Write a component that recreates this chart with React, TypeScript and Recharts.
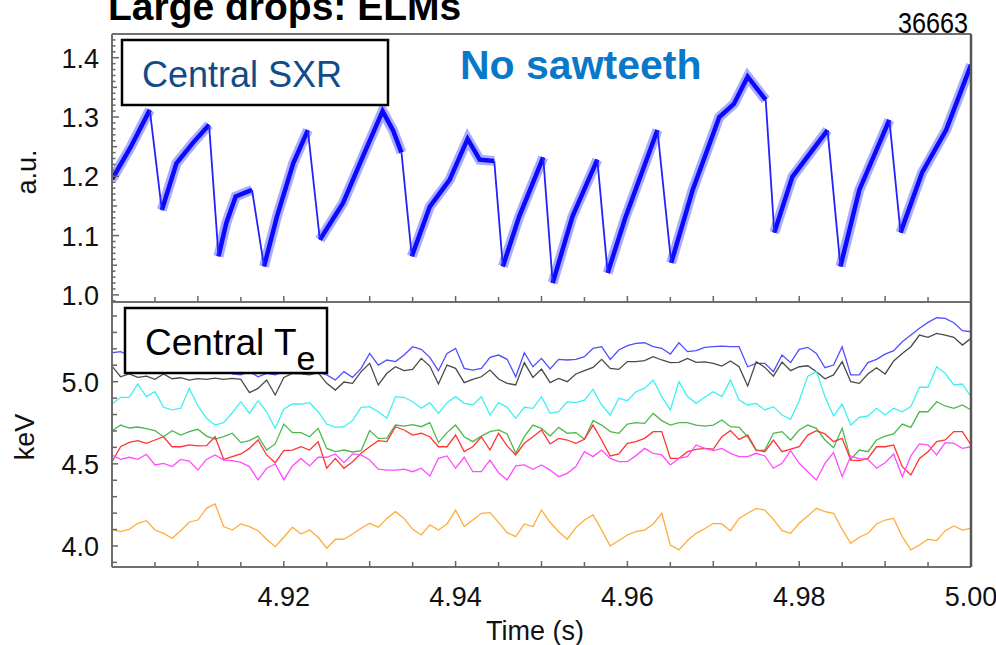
import React from "react";
import { LineChart, Line, XAxis, YAxis } from "recharts";

const FONT = '"Liberation Sans", Arial, Helvetica, sans-serif';
const AXIS = "#707070";

// ---- top panel: central SXR (ELM crashes) ----
const SXR_TIME = [
  4.9, 4.9022, 4.9044, 4.9058, 4.9075, 4.9094, 4.9113, 4.9124, 4.9133, 4.9144,
  4.9163, 4.9177, 4.9192, 4.9211, 4.9228, 4.9242, 4.9269, 4.9292, 4.9315, 4.9327,
  4.9337, 4.9349, 4.937, 4.9393, 4.9414, 4.9428, 4.9445, 4.9455, 4.9474, 4.9502,
  4.9513, 4.9536, 4.9565, 4.9577, 4.9598, 4.9635, 4.9651, 4.9676, 4.9707, 4.9724,
  4.974, 4.9761, 4.9771, 4.9792, 4.9833, 4.9848, 4.987, 4.9905, 4.9918, 4.9943,
  4.9971, 5.0,
];
const SXR_VALUE = [
  1.195, 1.25, 1.312, 1.143, 1.222, 1.256, 1.287, 1.065, 1.121, 1.166,
  1.177, 1.048, 1.132, 1.222, 1.278, 1.093, 1.155, 1.233, 1.31, 1.278,
  1.24, 1.065, 1.149, 1.194, 1.263, 1.228, 1.226, 1.048, 1.132, 1.232,
  1.02, 1.132, 1.228, 1.037, 1.132, 1.278, 1.054, 1.177, 1.3, 1.322,
  1.368, 1.329, 1.105, 1.199, 1.278, 1.048, 1.177, 1.295, 1.105, 1.206,
  1.278, 1.388,
];
// index of the last point before each crash
const SXR_CRASH_START = [2, 6, 10, 14, 20, 26, 29, 32, 35, 41, 44, 47];
const SXR_TICK_LABELS = [1.0, 1.1, 1.2, 1.3, 1.4];

// ---- bottom panel: central Te channels ----
const TE_TIME = [
  4.9, 4.901, 4.902, 4.903, 4.904, 4.905, 4.906, 4.907, 4.908, 4.909,
  4.91, 4.911, 4.912, 4.913, 4.914, 4.915, 4.916, 4.917, 4.918, 4.919,
  4.92, 4.921, 4.922, 4.923, 4.924, 4.925, 4.926, 4.927, 4.928, 4.929,
  4.93, 4.931, 4.932, 4.933, 4.934, 4.935, 4.936, 4.937, 4.938, 4.939,
  4.94, 4.941, 4.942, 4.943, 4.944, 4.945, 4.946, 4.947, 4.948, 4.949,
  4.95, 4.951, 4.952, 4.953, 4.954, 4.955, 4.956, 4.957, 4.958, 4.959,
  4.96, 4.961, 4.962, 4.963, 4.964, 4.965, 4.966, 4.967, 4.968, 4.969,
  4.97, 4.971, 4.972, 4.973, 4.974, 4.975, 4.976, 4.977, 4.978, 4.979,
  4.98, 4.981, 4.982, 4.983, 4.984, 4.985, 4.986, 4.987, 4.988, 4.989,
  4.99, 4.991, 4.992, 4.993, 4.994, 4.995, 4.996, 4.997, 4.998, 4.999,
  5.0,
];
const TE_BLUE = [
  5.176, 5.183, 5.16, 5.15, 5.17, 5.14, 5.16, 5.13, 5.15, 5.12,
  5.14, 5.11, 5.13, 5.1, 5.047, 5.041, 5.061, 5.03, 5.051, 5.041,
  5.061, 5.08, 5.07, 5.09, 5.06, 5.041, 5.01, 5.061, 5.026, 5.081,
  5.172, 5.101, 5.132, 5.122, 5.162, 5.213, 5.197, 5.148, 5.067, 5.172,
  5.203, 5.081, 5.071, 5.081, 5.148, 5.162, 5.136, 5.03, 5.176, 5.091,
  5.142, 5.077, 5.136, 5.132, 5.136, 5.152, 5.203, 5.213, 5.136, 5.193,
  5.219, 5.233, 5.237, 5.213, 5.203, 5.168, 5.237, 5.183, 5.189, 5.209,
  5.213, 5.217, 5.213, 5.213, 5.091, 5.112, 5.112, 5.061, 5.162, 5.116,
  5.197, 5.209, 5.172, 5.085, 5.101, 5.213, 5.041, 5.041, 5.116, 5.136,
  5.168, 5.189, 5.243, 5.284, 5.325, 5.361, 5.389, 5.385, 5.359, 5.31,
  5.304,
];
const TE_BLACK = [
  5.095, 5.03, 5.047, 5.026, 5.034, 5.014, 5.047, 5.018, 5.024, 5.01,
  5.018, 5.014, 5.022, 5.014, 5.02, 5.014, 4.933, 4.959, 5.01, 4.919,
  5.026, 5.051, 5.047, 5.041, 5.055, 4.99, 4.949, 4.998, 4.99, 5.061,
  5.112, 4.98, 5.051, 5.091, 5.067, 5.075, 5.142, 5.095, 4.986, 5.101,
  5.081, 4.994, 5.014, 5.03, 5.071, 5.016, 4.99, 4.98, 5.116, 5.026,
  5.077, 4.994, 5.02, 5.0, 5.047, 5.067, 5.087, 5.136, 5.081, 5.075,
  5.122, 5.122, 5.128, 5.152, 5.132, 5.116, 5.118, 5.142, 5.118, 5.12,
  5.112, 5.095, 5.126, 5.091, 4.974, 5.122, 5.087, 5.034, 5.12, 5.067,
  5.091, 5.097, 5.061, 5.018, 5.041, 5.122, 5.0, 4.99, 5.047, 5.085,
  5.047, 5.126, 5.172, 5.213, 5.284, 5.27, 5.294, 5.284, 5.27, 5.223,
  5.264,
];
const TE_CYAN = [
  4.864, 4.905, 4.905, 4.986, 4.909, 4.939, 4.844, 4.828, 4.838, 4.959,
  4.852, 4.777, 4.736, 4.751, 4.811, 4.878, 4.807, 4.884, 4.817, 4.716,
  4.832, 4.864, 4.864, 4.872, 4.817, 4.742, 4.722, 4.726, 4.763, 4.844,
  4.848, 4.817, 4.777, 4.909, 4.905, 4.878, 4.838, 4.872, 4.807, 4.872,
  4.909, 4.868, 4.858, 4.909, 4.797, 4.872, 4.844, 4.777, 4.844, 4.838,
  4.909, 4.807, 4.817, 4.878, 4.872, 4.888, 4.953, 4.858, 4.797, 4.899,
  4.884, 4.939, 4.959, 5.01, 4.909, 4.828, 5.0, 4.909, 4.868, 4.905,
  4.939, 4.909, 5.01, 4.888, 4.858, 4.868, 4.828, 4.848, 4.797, 4.771,
  4.884, 5.034, 5.061, 4.909, 4.791, 4.864, 4.736, 4.783, 4.791, 4.838,
  4.797, 4.838, 4.817, 4.848, 4.966, 4.966, 5.091, 5.051, 4.98, 4.986,
  4.909,
];
const TE_GREEN = [
  4.7, 4.736, 4.718, 4.724, 4.714, 4.702, 4.665, 4.702, 4.675, 4.696,
  4.71, 4.669, 4.651, 4.665, 4.686, 4.629, 4.641, 4.669, 4.584, 4.621,
  4.742, 4.69, 4.69, 4.665, 4.716, 4.594, 4.574, 4.584, 4.572, 4.58,
  4.702, 4.655, 4.657, 4.736, 4.73, 4.738, 4.726, 4.751, 4.629, 4.69,
  4.736, 4.665, 4.635, 4.669, 4.696, 4.706, 4.682, 4.564, 4.665, 4.736,
  4.716, 4.669, 4.722, 4.686, 4.69, 4.649, 4.763, 4.736, 4.696, 4.686,
  4.742, 4.751, 4.746, 4.807, 4.763, 4.736, 4.751, 4.751, 4.736, 4.73,
  4.736, 4.767, 4.726, 4.722, 4.665, 4.58, 4.584, 4.686, 4.696, 4.645,
  4.706, 4.736, 4.716, 4.645, 4.598, 4.716, 4.527, 4.584, 4.574, 4.645,
  4.669, 4.682, 4.742, 4.722, 4.817, 4.817, 4.878, 4.852, 4.838, 4.858,
  4.828,
];
const TE_RED = [
  4.513, 4.604, 4.631, 4.641, 4.625, 4.645, 4.665, 4.604, 4.604, 4.615,
  4.609, 4.611, 4.665, 4.527, 4.544, 4.56, 4.594, 4.645, 4.554, 4.507,
  4.58, 4.584, 4.604, 4.584, 4.635, 4.473, 4.533, 4.473, 4.513, 4.564,
  4.604, 4.641, 4.635, 4.726, 4.706, 4.675, 4.686, 4.665, 4.604, 4.604,
  4.675, 4.574, 4.604, 4.665, 4.584, 4.686, 4.609, 4.554, 4.625, 4.665,
  4.706, 4.621, 4.655, 4.645, 4.625, 4.649, 4.736, 4.645, 4.548, 4.56,
  4.625, 4.635, 4.655, 4.696, 4.696, 4.533, 4.533, 4.574, 4.588, 4.594,
  4.59, 4.665, 4.702, 4.649, 4.675, 4.584, 4.574, 4.645, 4.574, 4.59,
  4.604, 4.675, 4.702, 4.682, 4.635, 4.655, 4.523, 4.519, 4.533, 4.604,
  4.604, 4.615, 4.483, 4.432, 4.533, 4.574, 4.635, 4.645, 4.696, 4.696,
  4.615,
];
const TE_MAGENTA = [
  4.554, 4.527, 4.54, 4.527, 4.558, 4.493, 4.503, 4.483, 4.527, 4.517,
  4.462, 4.527, 4.554, 4.523, 4.519, 4.509, 4.483, 4.402, 4.473, 4.499,
  4.402, 4.487, 4.533, 4.487, 4.54, 4.54, 4.56, 4.507, 4.56, 4.554,
  4.523, 4.467, 4.462, 4.462, 4.467, 4.452, 4.473, 4.426, 4.533, 4.548,
  4.473, 4.54, 4.452, 4.452, 4.523, 4.446, 4.402, 4.487, 4.493, 4.467,
  4.493, 4.462, 4.422, 4.442, 4.483, 4.574, 4.544, 4.584, 4.533, 4.513,
  4.513, 4.55, 4.594, 4.564, 4.554, 4.493, 4.533, 4.544, 4.615, 4.594,
  4.58, 4.594, 4.564, 4.544, 4.544, 4.564, 4.548, 4.473, 4.503, 4.58,
  4.503, 4.452, 4.402, 4.503, 4.568, 4.422, 4.548, 4.531, 4.527, 4.473,
  4.507, 4.56, 4.422, 4.548, 4.621, 4.615, 4.554, 4.629, 4.625, 4.594,
  4.604,
];
const TE_ORANGE = [
  4.101, 4.087, 4.101, 4.138, 4.154, 4.097, 4.077, 4.047, 4.093, 4.146,
  4.158, 4.229, 4.256, 4.118, 4.097, 4.134, 4.118, 4.093, 4.041, 3.996,
  4.053, 4.114, 4.073, 4.097, 4.053, 3.986, 4.041, 4.041, 4.073, 4.108,
  4.138, 4.114, 4.168, 4.209, 4.168, 4.101, 4.067, 4.128, 4.097, 4.134,
  4.219, 4.118, 4.158, 4.199, 4.203, 4.144, 4.081, 4.057, 4.134, 4.118,
  4.219, 4.144, 4.087, 4.041, 4.112, 4.158, 4.189, 4.097, 4.0, 4.033,
  4.067, 4.087, 4.097, 4.134, 4.199, 4.006, 3.976, 4.033, 4.077, 4.105,
  4.138, 4.134, 4.093, 4.168, 4.199, 4.229, 4.219, 4.162, 4.093, 4.077,
  4.138, 4.183, 4.229, 4.209, 4.199, 4.101, 4.016, 4.053, 4.077, 4.134,
  4.158, 4.168, 4.057, 3.976, 4.006, 4.041, 4.033, 4.093, 4.122, 4.097,
  4.108,
];
const TE_TICK_LABELS = [4.0, 4.5, 5.0];
const X_TICK_LABELS = [4.92, 4.94, 4.96, 4.98, 5.0];

const TE_SERIES = [
  { key: "blue", values: TE_BLUE, color: "#4f4fff" },
  { key: "black", values: TE_BLACK, color: "#4a4a4a" },
  { key: "cyan", values: TE_CYAN, color: "#3ef0f0" },
  { key: "green", values: TE_GREEN, color: "#4cb84c" },
  { key: "red", values: TE_RED, color: "#ff3434" },
  { key: "magenta", values: TE_MAGENTA, color: "#ff4cff" },
  { key: "orange", values: TE_ORANGE, color: "#ffac3a" },
];

const teRows = TE_TIME.map((t, i) => {
  const row: Record<string, number> = { t };
  TE_SERIES.forEach((s) => (row[s.key] = s.values[i]));
  return row;
});

// ramps are drawn thick (noisy band), crashes thin
const rampRows: { t: number; v: number | null }[] = [];
const crashRows: { t: number; v: number | null }[] = [];
SXR_TIME.forEach((t, i) => {
  rampRows.push({ t, v: SXR_VALUE[i] });
  if (SXR_CRASH_START.includes(i)) {
    rampRows.push({ t, v: null });
    crashRows.push({ t, v: SXR_VALUE[i] });
    crashRows.push({ t: SXR_TIME[i + 1], v: SXR_VALUE[i + 1] });
    crashRows.push({ t: SXR_TIME[i + 1], v: null });
  }
});

function range(from: number, to: number, step: number) {
  const out: number[] = [];
  for (let v = from; v <= to + 1e-9; v += step) out.push(+v.toFixed(4));
  return out;
}
const near = (a: number, b: number) => Math.abs(a - b) < 1e-6;
const isMult = (v: number, m: number) => near(v / m, Math.round(v / m));

const X_TICKS = range(4.9, 5.0, 0.005);
const SXR_TICKS = range(0.99, 1.44, 0.01);
const TE_TICKS = range(3.9, 5.4, 0.1);

function LeftTick(props: any) {
  const { y, payload, labels, kind } = props;
  const x = 112;
  const v = payload.value as number;
  const lab = labels.some((l: number) => near(l, v));
  const len = kind === "sxr" ? (lab ? 7 : isMult(v, 0.05) ? 5 : 3.5) : lab ? 6 : 5;
  return (
    <g>
      <line x1={x} x2={x + len} y1={y} y2={y} stroke="#666" strokeWidth={1.5} />
      {lab && (
        <text x={x - 13} y={y + 10} textAnchor="end" fontSize={27} fontFamily={FONT} fill="#111">
          {v.toFixed(1)}
        </text>
      )}
    </g>
  );
}

function BottomTick(props: any) {
  const { x, y, payload, showLabels } = props;
  const v = payload.value as number;
  const lab = X_TICK_LABELS.some((l) => near(l, v));
  const len = isMult(v, 0.01) ? 6 : 5;
  return (
    <g>
      <line x1={x} x2={x} y1={y} y2={y - len} stroke="#666" strokeWidth={1.5} />
      {showLabels && lab && (
        <text x={x} y={y + 39} textAnchor="middle" fontSize={27} fontFamily={FONT} fill="#111">
          {v.toFixed(2)}
        </text>
      )}
    </g>
  );
}

export default function App() {
  return (
    <div style={{ position: "absolute", left: 0, top: 0, width: 996, height: 645, background: "#fff", overflow: "hidden" }}>
      <div style={{ position: "absolute", left: 0, top: 0 }}>
        <LineChart width={996} height={310} margin={{ top: 34, right: 25, bottom: 7, left: 111 }}>
          <XAxis
            type="number"
            dataKey="t"
            domain={[4.9, 5.0]}
            allowDataOverflow
            ticks={X_TICKS}
            interval={0}
            height={1}
            tickSize={0}
            tickMargin={0}
            tickLine={false}
            axisLine={{ stroke: AXIS, strokeWidth: 2 }}
            tick={(p: any) => <BottomTick {...p} showLabels={false} />}
          />
          <YAxis
            type="number"
            domain={[0.988, 1.44]}
            allowDataOverflow
            ticks={SXR_TICKS}
            interval={0}
            width={1}
            tickSize={0}
            tickMargin={0}
            tickLine={false}
            axisLine={{ stroke: AXIS, strokeWidth: 2 }}
            tick={(p: any) => <LeftTick {...p} labels={SXR_TICK_LABELS} kind="sxr" />}
          />
          <Line data={rampRows} dataKey="v" stroke="#3030ff" strokeOpacity={0.4} strokeWidth={10} dot={false} isAnimationActive={false} />
          <Line data={rampRows} dataKey="v" stroke="#0a0aff" strokeWidth={4.5} dot={false} isAnimationActive={false} />
          <Line data={crashRows} dataKey="v" stroke="#2222ff" strokeWidth={1.8} dot={false} isAnimationActive={false} />
        </LineChart>
      </div>
      <div style={{ position: "absolute", left: 0, top: 0 }}>
        <LineChart width={996} height={645} data={teRows} margin={{ top: 302, right: 25, bottom: 77, left: 111 }}>
          <XAxis
            type="number"
            dataKey="t"
            domain={[4.9, 5.0]}
            allowDataOverflow
            ticks={X_TICKS}
            interval={0}
            height={1}
            tickSize={0}
            tickMargin={0}
            tickLine={false}
            axisLine={{ stroke: AXIS, strokeWidth: 2 }}
            tick={(p: any) => <BottomTick {...p} showLabels />}
          />
          <YAxis
            type="number"
            domain={[3.872, 5.485]}
            allowDataOverflow
            ticks={TE_TICKS}
            interval={0}
            width={1}
            tickSize={0}
            tickMargin={0}
            tickLine={false}
            axisLine={{ stroke: AXIS, strokeWidth: 2 }}
            tick={(p: any) => <LeftTick {...p} labels={TE_TICK_LABELS} kind="te" />}
          />
          {TE_SERIES.map((s) => (
            <Line key={s.key} dataKey={s.key} stroke={s.color} strokeWidth={1.3} dot={false} isAnimationActive={false} />
          ))}
        </LineChart>
      </div>
      <svg width={996} height={645} style={{ position: "absolute", left: 0, top: 0, pointerEvents: "none" }}>
        {/* panel frames */}
        <line x1={112} x2={971} y1={34} y2={34} stroke={AXIS} strokeWidth={2} />
        <line x1={971} x2={971} y1={34} y2={567} stroke="#555" strokeWidth={2.5} />
        <text x={108} y={20} fontSize={39} fontWeight="bold" fontFamily={FONT} fill="#000">
          Large drops: ELMs
        </text>
        <text x={968} y={33} textAnchor="end" fontSize={30} fontFamily={FONT} fill="#000" textLength={70} lengthAdjust="spacingAndGlyphs">
          36663
        </text>
        <rect x={122} y={40} width={266} height={65} fill="#fff" stroke="#000" strokeWidth={2.5} />
        <text x={142} y={87} fontSize={36} fontFamily={FONT} fill="#124c88">
          Central SXR
        </text>
        <text x={460} y={79} fontSize={41} fontWeight="bold" fontFamily={FONT} fill="#0a78c8">
          No sawteeth
        </text>
        <rect x={125} y={308} width={202} height={65} fill="#fff" stroke="#000" strokeWidth={2.5} />
        <text x={145} y={355} fontSize={37} fontFamily={FONT} fill="#000">
          Central T
          <tspan dy={15} fontSize={34}>e</tspan>
        </text>
        <text transform="translate(36,172) rotate(-90)" textAnchor="middle" fontSize={27} fontFamily={FONT} fill="#111">
          a.u.
        </text>
        <text transform="translate(34,437) rotate(-90)" textAnchor="middle" fontSize={27} fontFamily={FONT} fill="#111">
          keV
        </text>
        <text x={535} y={640} textAnchor="middle" fontSize={27} fontFamily={FONT} fill="#111">
          Time (s)
        </text>
      </svg>
    </div>
  );
}
